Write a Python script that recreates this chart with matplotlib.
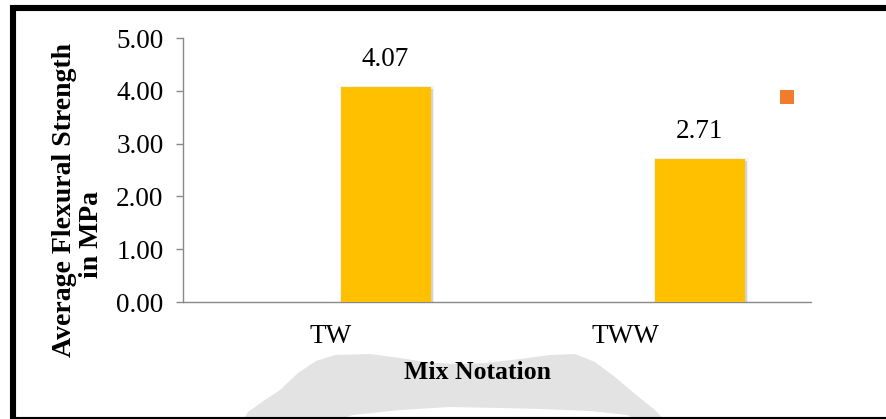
import numpy as np
import matplotlib
matplotlib.use('Agg')
import matplotlib.pyplot as plt
import matplotlib.patches as mpatches
import matplotlib.patheffects as pe

# flexural strength results (MPa)
mixes = ['TW', 'TWW']
strength = [4.07, 2.71]
yticks = [0.0, 1.0, 2.0, 3.0, 4.0, 5.0]

W, H = 886, 419
plt.rcParams['font.family'] = ['Liberation Serif', 'DejaVu Serif']


def fx(x):
    return x / W


def fy(y):
    return 1 - y / H


fig = plt.figure(figsize=(W / 100, H / 100), dpi=100)
fig.patch.set_facecolor('white')

# faint logo shape sitting behind the lower part of the chart
logo_px = [(244, 419), (248, 412), (265, 400), (280, 390), (298, 373), (316, 361), (335, 355),
           (370, 354), (400, 358), (425, 362), (455, 364), (485, 363), (520, 359), (550, 355),
           (575, 354), (595, 362), (615, 377), (635, 394), (655, 410), (663, 419),
           (635, 419), (627, 415), (590, 411), (540, 409), (500, 408), (450, 407),
           (400, 410), (353, 415), (340, 419)]
logo = mpatches.Polygon([(fx(x), fy(y)) for x, y in logo_px], closed=True,
                        transform=fig.transFigure, facecolor='#e3e3e3', edgecolor='none', zorder=0)
fig.patches.append(logo)

ax = fig.add_axes([fx(183), fy(302), fx(811) - fx(183), fy(38) - fy(302)])
ax.set_facecolor('none')

x = np.arange(len(mixes))
width = 0.2866
bars = ax.bar(x + 0.145, strength, width, color='#ffc000', zorder=3)
for b in bars:
    b.set_path_effects([
        pe.SimplePatchShadow(offset=(1.5, -1.2), shadow_rgbFace='black', alpha=0.12),
        pe.Stroke(linewidth=3, foreground='black', alpha=0.05, offset=(0.8, -0.6)),
        pe.Normal(),
    ])

for b, v in zip(bars, strength):
    ax.annotate(f'{v:.2f}', (b.get_x() + b.get_width() / 2, v), xytext=(0, 11),
                textcoords='offset points', ha='center', va='bottom', fontsize=19.5)

ax.set_xlim(-0.5, 1.5)
ax.set_ylim(0, 5)
ax.set_yticks(yticks)
ax.set_yticklabels([f'{t:.2f}' for t in yticks], fontsize=19.5)
ax.set_xticks([-0.03, 0.91])
ax.set_xticklabels(mixes, fontsize=19.5)
ax.tick_params(axis='x', length=0, pad=16)
ax.tick_params(axis='y', length=5, width=1, color='#898989', pad=9)

for s in ['top', 'right']:
    ax.spines[s].set_visible(False)
for s in ['left', 'bottom']:
    ax.spines[s].set_color('#898989')
    ax.spines[s].set_linewidth(1)

fig.text(fx(477), fy(372), 'Mix Notation', ha='center', va='center', fontsize=18.5, fontweight='bold')
fig.text(fx(65), fy(200), 'Average Flexural Strength', rotation=90, ha='center', va='center',
         fontsize=20, fontweight='bold')
fig.text(fx(92), fy(235), 'in MPa', rotation=90, ha='center', va='center',
         fontsize=20, fontweight='bold')

# legend key for the second series
fig.patches.append(mpatches.Rectangle((fx(780), fy(104)), fx(14), fy(90) - fy(104),
                                      transform=fig.transFigure, facecolor='#f07d2c',
                                      edgecolor='none'))

# black frame, right edge runs off the canvas
fig.patches.append(mpatches.Rectangle((fx(13), fy(420)), fx(900) - fx(13), fy(8) - fy(420),
                                      transform=fig.transFigure, facecolor='none',
                                      edgecolor='black', linewidth=4.4, zorder=10))

fig.savefig('out.png', dpi=100)
